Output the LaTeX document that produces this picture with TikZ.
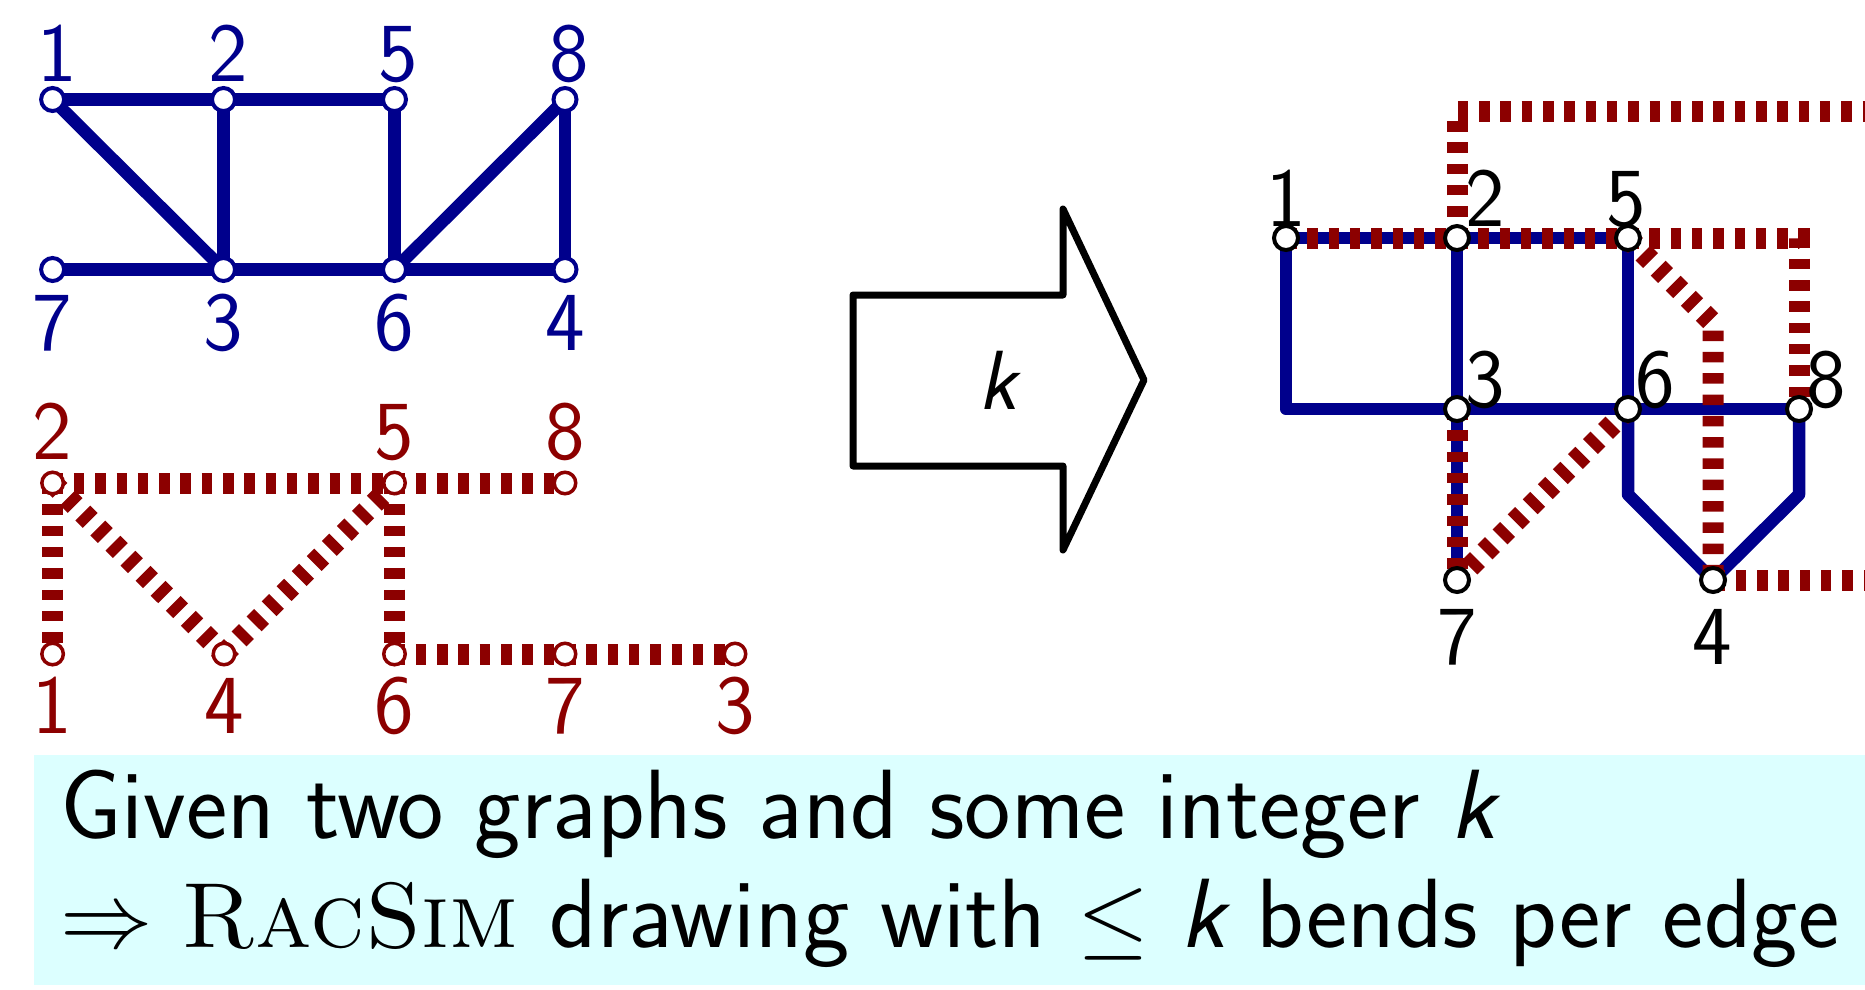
\RequirePackage{fix-cm}
\documentclass[tikz,border=0pt]{standalone}
\usepackage{fontspec}
\usetikzlibrary{backgrounds}
\definecolor{gblue}{RGB}{0,0,140}
\definecolor{gred}{RGB}{140,0,0}
\definecolor{boxcyan}{RGB}{220,255,255}
\newcommand\mylabfont{\fontsize{84}{100}\selectfont\sffamily}
\newcommand\mytextfont{\fontsize{98.5}{118}\selectfont\sffamily}
\newcommand\myromsize{\fontsize{92.5}{110}\selectfont}
\tikzset{
  vb/.style={circle, draw=gblue, fill=white, line width=4, minimum size=23, inner sep=0},
  vr/.style={circle, draw=gred, fill=white, line width=3.5, minimum size=21.5, inner sep=0},
  vk/.style={circle, draw=black, fill=white, line width=4, minimum size=24, inner sep=0},
  eb/.style={draw=gblue, line width=12.5, line join=round},
  er/.style={draw=gred, line width=21, dash pattern=on 10.5 off 10.8},
  lb/.style={inner sep=0, anchor=base, font=\mylabfont, text=gblue},
  lr/.style={inner sep=0, anchor=base, font=\mylabfont, text=gred},
  lk/.style={inner sep=0, anchor=base, font=\mylabfont, text=black},
}
\begin{document}
\begin{tikzpicture}[x=1pt, y=-1pt]
\useasboundingbox (0,0) rectangle (1865,989);
\clip (0,0) rectangle (1865,989);

% ---------- blue graph (top left)
\node[vb] (b1) at (52.6,99.5) {};
\node[vb] (b2) at (223.5,99.5) {};
\node[vb] (b5) at (394.5,99.5) {};
\node[vb] (b8) at (565,99.5) {};
\node[vb] (b7) at (52.6,269.5) {};
\node[vb] (b3) at (223.5,269.5) {};
\node[vb] (b6) at (394.5,269.5) {};
\node[vb] (b4) at (565,269.5) {};
\node[lb] (lb1) at (57,81) {1};
\node[lb] (lb2) at (228,81) {2};
\node[lb] (lb5) at (398,81) {5};
\node[lb] (lb8) at (569,81) {8};
\node[lb] (lb7) at (52.6,350) {7};
\node[lb] (lb3) at (223.5,350) {3};
\node[lb] (lb6) at (394.5,350) {6};
\node[lb] (lb4) at (565,350) {4};

% ---------- red graph (bottom left)
\node[vr] (c2) at (52.6,483) {};
\node[vr] (c5) at (394.5,483) {};
\node[vr] (c8) at (565,483) {};
\node[vr] (c1) at (52.6,654) {};
\node[vr] (c4) at (224,654) {};
\node[vr] (c6) at (394.5,654) {};
\node[vr] (c7) at (565,654) {};
\node[vr] (c3) at (735,654) {};
\node[lr] (lc2) at (52.6,459) {2};
\node[lr] (lc5) at (394.5,459) {5};
\node[lr] (lc8) at (565,459) {8};
\node[lr] (lc1) at (52.6,733) {1};
\node[lr] (lc4) at (224,733) {4};
\node[lr] (lc6) at (394.5,733) {6};
\node[lr] (lc7) at (565,733) {7};
\node[lr] (lc3) at (735,733) {3};

% ---------- simultaneous drawing (right)
\node[vk] (r1) at (1286,238) {};
\node[vk] (r2) at (1457,238) {};
\node[vk] (r5) at (1628,238) {};
\node[vk] (r3) at (1457,409) {};
\node[vk] (r6) at (1628,409) {};
\node[vk] (r8) at (1799,409) {};
\node[vk] (r7) at (1457,580) {};
\node[vk] (r4) at (1713,580) {};
\coordinate (rtop) at (1457,111);
\coordinate (rtopend) at (1900,111);
\coordinate (rbotend) at (1900,580);
\coordinate (r54) at (1713,323);
\node[lk] (lr1) at (1286,226) {1};
\node[lk,anchor=base west] (lr2) at (1465,226) {2};
\node[lk] (lr5) at (1626,226) {5};
\node[lk,anchor=base west] (lr3) at (1465,407) {3};
\node[lk,anchor=base west] (lr6) at (1635,407) {6};
\node[lk,anchor=base west] (lr8) at (1806,407) {8};
\node[lk] (lr7) at (1457,664) {7};
\node[lk] (lr4) at (1712,664) {4};

\begin{scope}[on background layer]
  % blue graph edges
  \draw[eb] (b1.center) -- (b2.center) -- (b5.center);
  \draw[eb] (b1.center) -- (b3.center);
  \draw[eb] (b2.center) -- (b3.center);
  \draw[eb] (b5.center) -- (b6.center);
  \draw[eb] (b6.center) -- (b8.center);
  \draw[eb] (b8.center) -- (b4.center);
  \draw[eb] (b7.center) -- (b3.center) -- (b6.center) -- (b4.center);
  % red graph edges
  \draw[er] (c2.center) -- (c5.center);
  \draw[er] (c5.center) -- (c8.center);
  \draw[er] (c2.center) -- (c1.center);
  \draw[er] (c2.center) -- (c4.center);
  \draw[er] (c4.center) -- (c5.center);
  \draw[er] (c5.center) -- (c6.center);
  \draw[er] (c6.center) -- (c7.center);
  \draw[er] (c7.center) -- (c3.center);
  % right: blue
  \draw[eb] (r1.center) -- (r2.center) -- (r5.center);
  \draw[eb] (r1.center) |- (r3.center);
  \draw[eb] (r2.center) -- (r3.center) -- (r7.center);
  \draw[eb] (r5.center) -- (r6.center);
  \draw[eb] (r3.center) -- (r6.center) -- (r8.center);
  \draw[eb] (r6.center) -- ++(0,85.5) -- (r4.center);
  \draw[eb] (r8.center) -- ++(0,85.5) -- (r4.center);
  % right: red
  \draw[er] (r1.center) -- (r2.center);
  \draw[er] (r2.center) -- (r5.center);
  \draw[er] (r2.center) -- (rtop) -- (rtopend) -- (rbotend) -- (r4.center);
  \draw[er] (r5.center) -| (r8.center);
  \draw[er] (r5.center) -- (r54) -- (r4.center);
  \draw[er] (r6.center) -- (r7.center);
  \draw[er] (r3.center) -- (r7.center);
\end{scope}

% ---------- arrow
\draw[line width=7, line join=round] (853,295) -- (1063,295) -- (1063,209) -- (1144,380) -- (1063,550) -- (1063,466) -- (853,466) -- cycle;
\node[inner sep=0, anchor=base, font=\mylabfont] (klab) at (998,409) {\itshape k};

% ---------- text box
\node[fill=boxcyan, inner sep=0, minimum width=1860, minimum height=230, anchor=north west] (box) at (34,755) {};
\node[inner sep=0, anchor=base west, font=\mytextfont] (t1) at (60,838) {Given two graphs and some integer {\itshape k}};
\node[inner sep=0, anchor=base west, font=\mytextfont] (t2) at (60,947) {{\myromsize$\Rightarrow$ \textrm{\textsc{RacSim}}} drawing with {\myromsize$\leq$} {\itshape k} bends per edge};
\end{tikzpicture}
\end{document}
